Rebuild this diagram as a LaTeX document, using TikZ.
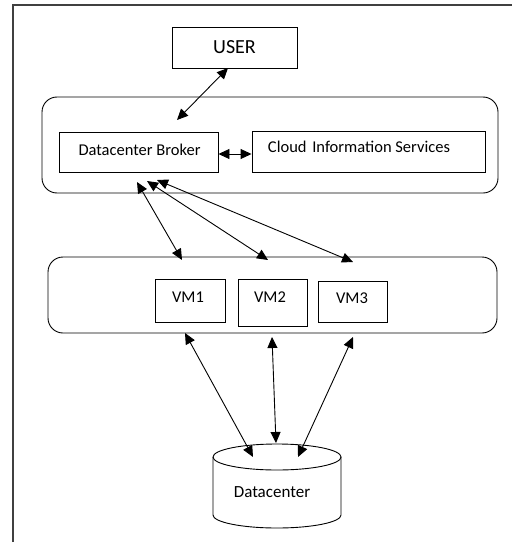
\documentclass[tikz,border=0pt]{standalone}
\usepackage{fontspec}
\setmainfont{Carlito}
\usetikzlibrary{arrows.meta}
\tikzset{
  box/.style={draw, line width=0.9pt, rectangle, inner sep=0pt, font=\fontsize{16.5}{19}\selectfont},
  rbox/.style={draw, line width=0.9pt, rectangle, rounded corners=15pt, inner sep=0pt},
  lbl/.style={font=\fontsize{16.5}{19}\selectfont, inner sep=0pt},
  dbl/.style={line width=0.9pt, {Triangle[length=11pt,width=10pt]}-{Triangle[length=11pt,width=10pt]}},
  frame/.style={draw=black!75, line width=1.5pt}
}
\begin{document}
\begin{tikzpicture}[x=1pt,y=-1pt]
\useasboundingbox (0,0) rectangle (521,543);
\draw[frame] (13,542) -- (13,5) -- (512,5);
% top group
\node[box, minimum width=125pt, minimum height=41pt, font=\fontsize{20}{24}\selectfont] (user) at (234.5,47.5) {USER};
\node[rbox, minimum width=456pt, minimum height=96pt] (grp1) at (270,145) {};
\node[box, minimum width=159pt, minimum height=40pt] (broker) at (138.5,152) {};
\node[lbl] (brokert) at (139.5,150) {Datacenter Broker};
\node[box, minimum width=233pt, minimum height=41pt] (cis) at (368.5,151.5) {};
\node[lbl] (cist) at (359,147) {Cloud\hspace{2pt} Information Services};
% VM group
\node[rbox, minimum width=449pt, minimum height=76pt] (grp2) at (272.5,295) {};
\node[box, minimum width=70pt, minimum height=43pt] (vm1) at (190,300.5) {};
\node[lbl] (vm1t) at (188,297) {VM1};
\node[box, minimum width=69pt, minimum height=47pt] (vm2) at (272.5,302.5) {};
\node[lbl] (vm2t) at (270,297) {VM2};
\node[box, minimum width=69pt, minimum height=41pt] (vm3) at (352.5,301.5) {};
\node[lbl] (vm3t) at (352,298) {VM3};
% datacenter cylinder
\draw[line width=0.9pt] (213,457) -- (213,515) arc[start angle=180, end angle=360, x radius=64pt, y radius=13pt] -- (341,457);
\draw[line width=0.9pt] (277,457) ellipse[x radius=64pt, y radius=13pt];
\node[lbl, font=\fontsize{17}{20}\selectfont] (dc) at (272,492) {Datacenter};
% connector end points
\coordinate (uA) at (228,68);
\coordinate (uB) at (177,120);
\coordinate (b1) at (137,182);
\coordinate (b2) at (147,181);
\coordinate (b3) at (157,180);
\coordinate (v1top) at (182,260);
\coordinate (v2top) at (268,260);
\coordinate (v3top) at (353,262);
\coordinate (v1bot) at (185,333);
\coordinate (v2bot) at (272,337);
\coordinate (v3bot) at (353,337);
\coordinate (d1) at (253,457);
\coordinate (d2) at (276,443);
\coordinate (d3) at (298,457);
% connectors
\draw[dbl] (uA) -- (uB);
\draw[dbl] (broker.east |- 0,154) -- (cis.west |- 0,154);
\draw[dbl] (b1) -- (v1top);
\draw[dbl] (b2) -- (v2top);
\draw[dbl] (b3) -- (v3top);
\draw[dbl] (v1bot) -- (d1);
\draw[dbl] (v2bot) -- (d2);
\draw[dbl] (v3bot) -- (d3);
\end{tikzpicture}
\end{document}
